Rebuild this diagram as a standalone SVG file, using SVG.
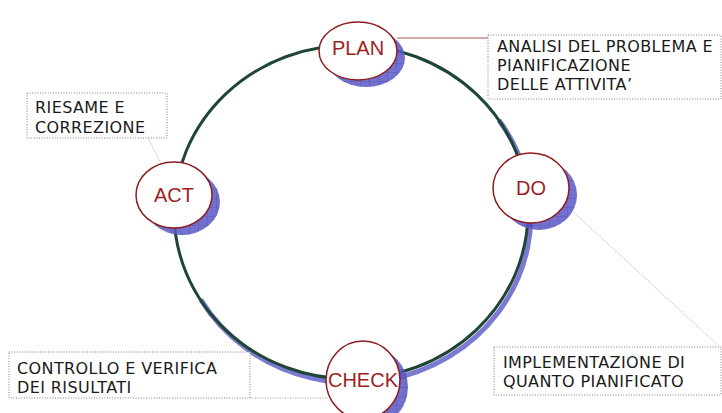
<svg xmlns="http://www.w3.org/2000/svg" width="722" height="413" viewBox="0 0 722 413">
  <defs>
    <pattern id="grid" width="9" height="9" patternUnits="userSpaceOnUse">
      <rect width="9" height="9" fill="#5a58c6"/>
      <path d="M0 0H9M0 0V9" stroke="#34329a" stroke-width="0.8" fill="none"/>
    </pattern>
  </defs>
  <style>
    .node { fill: #ffffff; stroke: #8e1b1f; stroke-width: 1.5; }
    .shadow { fill: url(#grid); opacity: 0.85; }
    .nlabel { font-family: "Liberation Sans", Arial, sans-serif; font-size: 20px; fill: #9e1f22; text-anchor: middle; }
    .note { fill: #ffffff; stroke: #8a7878; stroke-width: 1; stroke-dasharray: 1 1.6; }
    .ntext { font-family: "DejaVu Sans", Verdana, sans-serif; font-size: 16px; letter-spacing: 0.4px; fill: #1a1a1a; }
    .lead { stroke: #8a8a8a; stroke-width: 0.8; stroke-dasharray: 1 1.5; fill: none; }
  </style>
  <rect width="722" height="413" fill="#ffffff"/>

  <g id="connectors">
    <path d="M 200.7 299.5 A 177 167 0 1 0 499 120.2" fill="none" stroke="#5a58c6" stroke-width="5" opacity="0.8"/>
    <ellipse cx="351" cy="212" rx="177" ry="167" fill="none" stroke="#1f4536" stroke-width="3"/>
    <line x1="397" y1="38" x2="488" y2="38" stroke="#a05a5a" stroke-width="1.2"/>
    <path class="lead" d="M148 138 L162 165"/>
    <path class="lead" d="M569 208 L721 348"/>
    <path class="lead" d="M250 398 L328 398"/>
  </g>

  <g id="note-plan">
    <rect class="note" x="488" y="35" width="233" height="64"/>
    <text class="ntext" x="497" y="52">ANALISI DEL PROBLEMA E</text>
    <text class="ntext" x="497" y="71">PIANIFICAZIONE</text>
    <text class="ntext" x="497" y="90">DELLE ATTIVITA’</text>
  </g>
  <g id="note-act">
    <rect class="note" x="27" y="93" width="140" height="45"/>
    <text class="ntext" x="35" y="113">RIESAME E</text>
    <text class="ntext" x="35" y="133">CORREZIONE</text>
  </g>
  <g id="note-check">
    <rect class="note" x="9" y="352" width="241" height="46"/>
    <text class="ntext" x="17" y="374">CONTROLLO E VERIFICA</text>
    <text class="ntext" x="17" y="393">DEI RISULTATI</text>
  </g>
  <g id="note-do">
    <rect class="note" x="494" y="347" width="227" height="48"/>
    <text class="ntext" x="503" y="368">IMPLEMENTAZIONE DI</text>
    <text class="ntext" x="503" y="387">QUANTO PIANIFICATO</text>
  </g>

  <g id="node-plan">
    <ellipse class="shadow" cx="366" cy="58" rx="39" ry="29"/>
    <ellipse class="node" cx="358" cy="51" rx="39" ry="29"/>
    <text class="nlabel" x="358" y="55">PLAN</text>
  </g>
  <g id="node-act">
    <ellipse class="shadow" cx="182" cy="202" rx="38" ry="33"/>
    <ellipse class="node" cx="174" cy="195" rx="38" ry="33"/>
    <text class="nlabel" x="174" y="202">ACT</text>
  </g>
  <g id="node-do">
    <ellipse class="shadow" cx="539" cy="195" rx="38" ry="35"/>
    <ellipse class="node" cx="531" cy="188" rx="38" ry="35"/>
    <text class="nlabel" x="531" y="195">DO</text>
  </g>
  <g id="node-check">
    <ellipse class="shadow" cx="371" cy="387" rx="37" ry="39"/>
    <ellipse class="node" cx="363" cy="380" rx="37" ry="39"/>
    <text class="nlabel" x="363" y="387">CHECK</text>
  </g>
</svg>
